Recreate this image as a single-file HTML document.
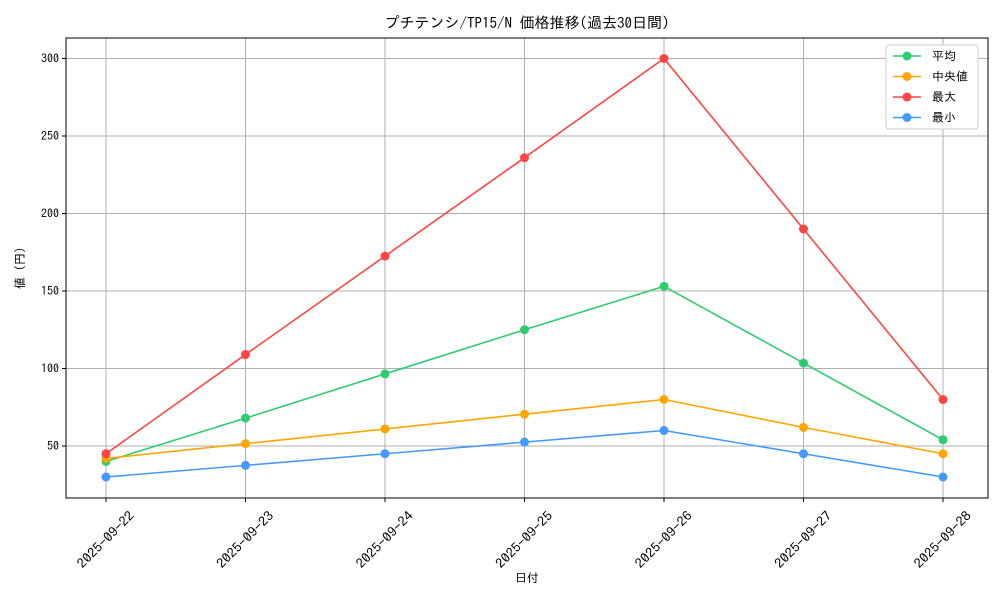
<!DOCTYPE html>
<html><head><meta charset="utf-8"><style>
body{margin:0;background:#fff;}
svg text{font-family:"IPAGothic","Liberation Sans","Noto Sans CJK JP",sans-serif;fill:#000;}
</style></head><body>
<svg id="chart" width="1000" height="600" xmlns="http://www.w3.org/2000/svg">
<rect width="1000" height="600" fill="#fff"/>
<text x="527" y="28" font-size="15" text-anchor="middle">プチテンシ/TP15/N 価格推移(過去30日間)</text>
<g id="grid"></g><g id="axes"></g><g id="series"></g>
<text x="527" y="582" font-size="12" text-anchor="middle">日付</text>
<text x="24" y="268" font-size="12" text-anchor="middle" transform="rotate(-90 24 268)">値 (円)</text>
<g id="legend"></g>
</svg>
<script>
const categories=["2025-09-22","2025-09-23","2025-09-24","2025-09-25","2025-09-26","2025-09-27","2025-09-28"];
const avgValues=[40,68,96.5,125,153,103.5,54];
const medianValues=[42,51.5,61,70.5,80,62,45];
const maxValues=[45,109,172.5,236,300,190,80];
const minValues=[30,37.5,45,52.5,60,45,30];
const yTicks=[50,100,150,200,250,300];
const seriesNames=["平均","中央値","最大","最小"];
const seriesColors=["#2ecc71","#ffa500","#ff4444","#4499ff"];
const NS="http://www.w3.org/2000/svg";
const L=66,R=988,T=38,B=498;
const xs=i=>106+i*(943-106)/(categories.length-1);
const ys=v=>446-(v-50)*1.55;
function mk(tag,attrs,parent){const e=document.createElementNS(NS,tag);for(const k in attrs)e.setAttribute(k,attrs[k]);parent.appendChild(e);return e;}
const grid=document.getElementById('grid'),axes=document.getElementById('axes'),ser=document.getElementById('series'),leg=document.getElementById('legend');
categories.forEach((c,i)=>{const x=xs(i);
 const g=mk('line',{x1:x,x2:x,y1:T,y2:B,stroke:'#b0b0b0','stroke-width':1},grid);
 
 mk('line',{x1:x,x2:x,y1:B,y2:B+4,stroke:'#000'},axes);
 const cy=540;
 const t=mk('text',{x:x,y:cy+4,'font-size':13,'text-anchor':'middle',textLength:74,lengthAdjust:'spacingAndGlyphs',transform:`rotate(-45 ${x} ${cy})`},axes);
 t.textContent=c;});
yTicks.forEach(v=>{const y=ys(v);
 const g=mk('line',{x1:L,x2:R,y1:y,y2:y,stroke:'#b0b0b0','stroke-width':1},grid);
 
 mk('line',{x1:L-4,x2:L,y1:y,y2:y,stroke:'#000'},axes);
 const t=mk('text',{x:L-7,y:y+4,'font-size':12,'text-anchor':'end'},axes);
 t.textContent=v;});
const fr=mk('rect',{x:L,y:T,width:R-L,height:B-T,fill:'none',stroke:'#000','stroke-width':1},axes);

[avgValues,medianValues,maxValues,minValues].forEach((vals,s)=>{
 const p=mk('polyline',{points:vals.map((v,i)=>xs(i)+','+ys(v)).join(' '),fill:'none',stroke:seriesColors[s],'stroke-width':1.6},ser);
 
 vals.forEach((v,i)=>{const c=mk('circle',{cx:xs(i),cy:ys(v),r:4.5,fill:seriesColors[s]},ser);
  });
});
const lb=mk('rect',{x:886,y:45,width:92,height:84,rx:3,fill:'#fff',stroke:'#ccc'},leg);
seriesNames.forEach((n,s)=>{const y=56+s*20.5;
 const g=mk('g',{},leg);
 mk('line',{x1:893,x2:921,y1:y,y2:y,stroke:seriesColors[s],'stroke-width':1.6},g);
 mk('circle',{cx:907,cy:y,r:4.5,fill:seriesColors[s]},g);
 const t=mk('text',{x:932,y:y+4,'font-size':12},g);t.textContent=n;});
</script>
</body></html>
